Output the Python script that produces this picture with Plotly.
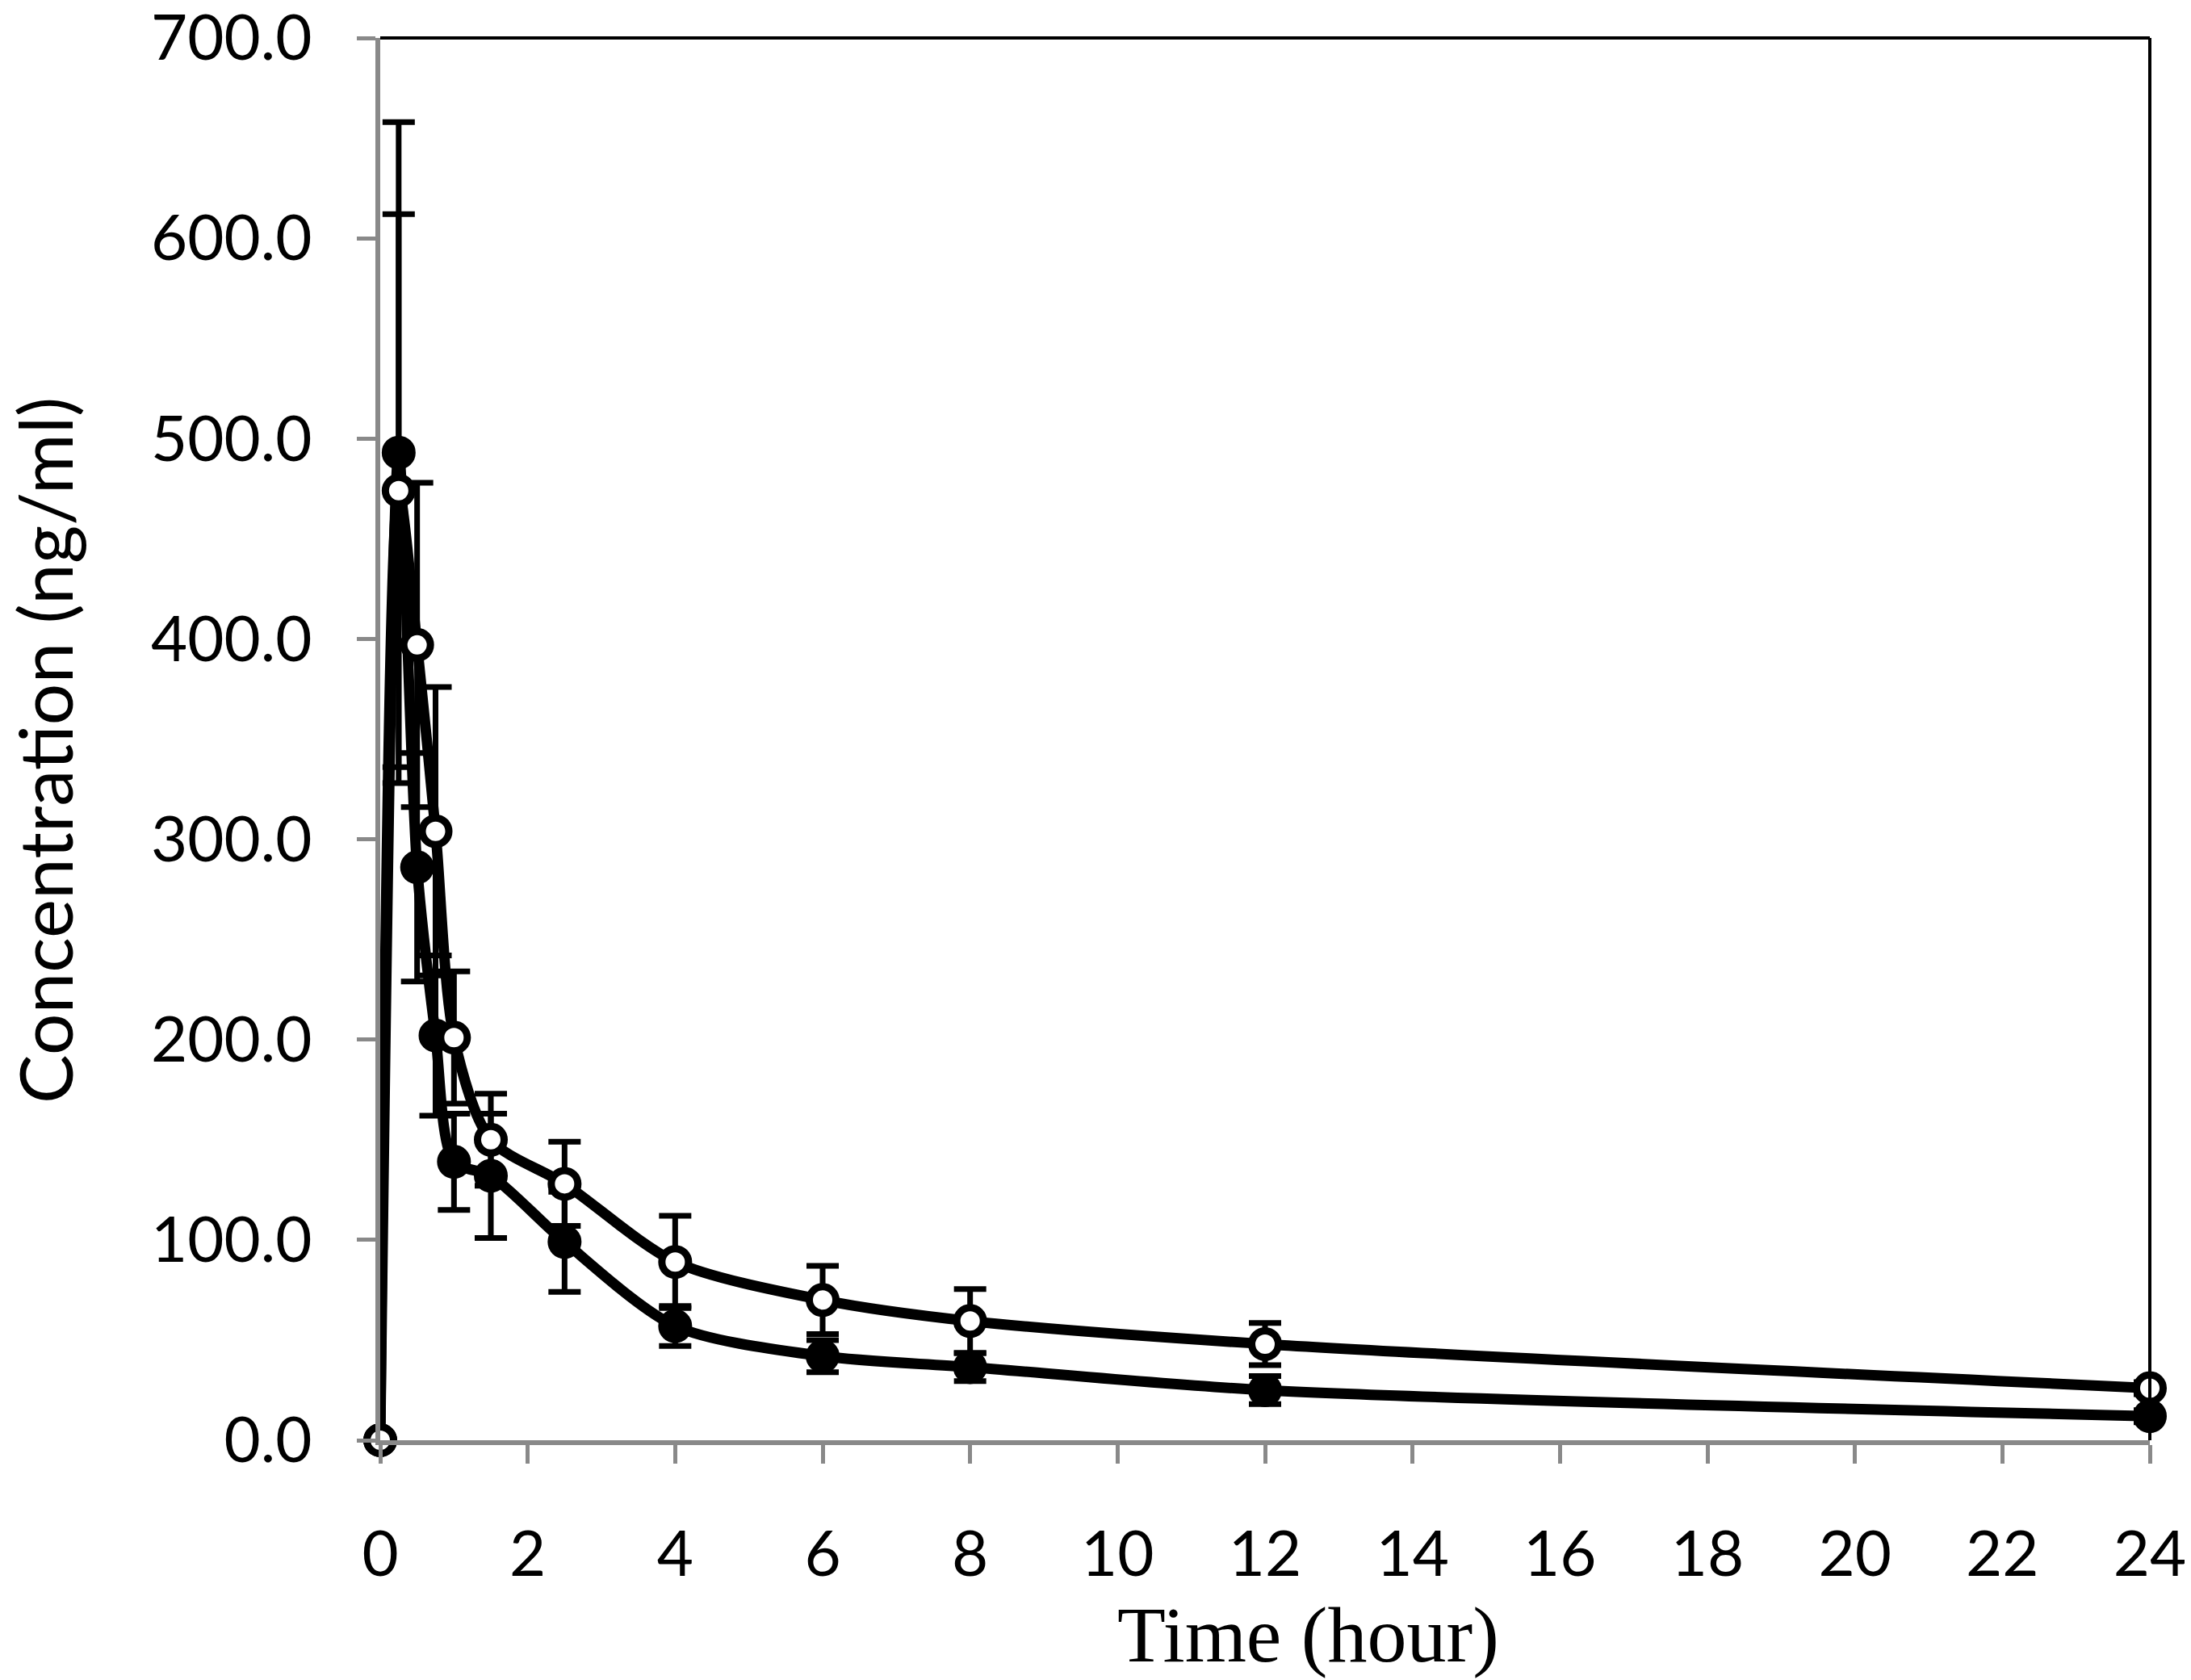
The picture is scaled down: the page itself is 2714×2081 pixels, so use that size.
import plotly.graph_objects as go

# sampling times (hour)
time_h = [0, 0.25, 0.5, 0.75, 1, 1.5, 2.5, 4, 6, 8, 12, 24]

# closed circles
conc_closed = [0, 493, 286, 202, 139, 132, 99, 57, 42, 36.5, 25, 12]
sd_closed = [0, 165, 57, 40, 24, 31, 25, 10, 8, 7, 7, 3]

# open circles
conc_open = [0, 474, 397, 304, 201, 150, 128, 89, 70, 59.5, 48, 26]
sd_open = [0, 138, 81, 72, 33, 23, 21, 23, 17, 16, 10.5, 3]

y_ticks = [0, 100, 200, 300, 400, 500, 600, 700]
x_ticks = list(range(0, 25, 2))

grey = "#898989"

fig = go.Figure()

# closed series first, open one sits on top
fig.add_trace(go.Scatter(
    x=time_h, y=conc_closed, mode="lines+markers", name="closed",
    line=dict(color="black", width=13, shape="spline", smoothing=0.8),
    marker=dict(symbol="circle", size=35, color="black",
                line=dict(color="black", width=7)),
    error_y=dict(type="data", array=sd_closed, visible=True,
                 color="black", thickness=7, width=20),
    cliponaxis=False,
))
fig.add_trace(go.Scatter(
    x=time_h, y=conc_open, mode="lines+markers", name="open",
    line=dict(color="black", width=13, shape="spline", smoothing=0.8),
    marker=dict(symbol="circle", size=33, color="white",
                line=dict(color="black", width=9)),
    error_y=dict(type="data", array=sd_open, visible=True,
                 color="black", thickness=7, width=20),
    cliponaxis=False,
))

fig.update_layout(
    width=2714, height=2081,
    margin=dict(l=463, r=59, t=39, b=305),
    paper_bgcolor="white", plot_bgcolor="white",
    showlegend=False,
    font=dict(family="Lato", color="black"),
)

fig.update_xaxes(
    range=[0, 24], tickvals=x_ticks, ticktext=[str(v) for v in x_ticks],
    ticks="outside", ticklen=23, tickwidth=5, tickcolor=grey,
    showline=True, linecolor=grey, linewidth=6,
    showgrid=False, zeroline=False, automargin=False,
    tickfont=dict(family="Lato", size=78, color="black"),
    ticklabelstandoff=45,
)
fig.update_yaxes(
    range=[0, 700.001], tickvals=y_ticks, ticktext=[f"{v:.1f}" for v in y_ticks],
    ticks="outside", ticklen=23, tickwidth=5, tickcolor=grey,
    showline=True, linecolor=grey, linewidth=6,
    showgrid=False, zeroline=False, automargin=False,
    tickfont=dict(family="Lato", size=78, color="black"),
    ticklabelstandoff=40, ticklabeloverflow="allow",
)

# plot-area border on top and right (black, thin)
fig.add_shape(type="line", xref="paper", yref="paper", x0=0, x1=1, y0=1, y1=1,
              line=dict(color="black", width=4))
fig.add_shape(type="line", xref="paper", yref="paper", x0=1, x1=1, y0=0, y1=1,
              line=dict(color="black", width=4))

# axis titles
fig.add_annotation(
    text="Time (hour)", xref="paper", yref="paper", x=0.5246, y=-0.139,
    xanchor="center", yanchor="middle", showarrow=False,
    font=dict(family="Liberation Serif", size=98, color="black"),
)
fig.add_annotation(
    text="Concentration (ng/ml)", xref="paper", yref="paper", x=-0.19, y=0.492,
    xanchor="center", yanchor="middle", showarrow=False, textangle=-90,
    font=dict(family="Lato", size=91, color="black"),
)

fig.write_html("out.html")
